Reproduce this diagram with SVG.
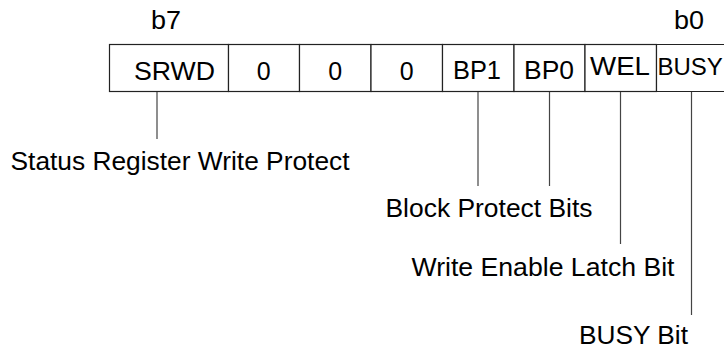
<svg xmlns="http://www.w3.org/2000/svg" width="724" height="352" viewBox="0 0 724 352">
<style>
text{font-family:"Liberation Sans",Arial,Helvetica,sans-serif;font-size:25px;fill:#000}
.c{text-anchor:middle}
.cell{fill:#fff;stroke:#222;stroke-width:1.2}
.stub{stroke:#444;stroke-width:1.2;fill:none}
</style>
<rect width="724" height="352" fill="#fff"/>
<g id="bitlabels">
<text x="151" y="29" textLength="30" lengthAdjust="spacingAndGlyphs">b7</text>
<text x="674" y="29" textLength="30" lengthAdjust="spacingAndGlyphs">b0</text>
</g>
<g id="cell-srwd"><rect class="cell" x="109.5" y="44.5" width="119" height="47"/><text x="134" y="80" textLength="81" lengthAdjust="spacingAndGlyphs">SRWD</text></g>
<g id="cell-b6"><rect class="cell" x="228.5" y="44.5" width="71" height="47"/><text class="c" x="263.7" y="80">0</text></g>
<g id="cell-b5"><rect class="cell" x="299.5" y="44.5" width="71.5" height="47"/><text class="c" x="335.2" y="80">0</text></g>
<g id="cell-b4"><rect class="cell" x="371" y="44.5" width="71.5" height="47"/><text class="c" x="406.8" y="80">0</text></g>
<g id="cell-bp1"><rect class="cell" x="442.5" y="44.5" width="71.5" height="47"/><text x="453" y="79" textLength="48" lengthAdjust="spacingAndGlyphs">BP1</text></g>
<g id="cell-bp0"><rect class="cell" x="514" y="44.5" width="71" height="47"/><text x="524" y="79" textLength="50" lengthAdjust="spacingAndGlyphs">BP0</text></g>
<g id="cell-wel"><rect class="cell" x="585" y="44.5" width="71.5" height="47"/><text x="590" y="75" textLength="60" lengthAdjust="spacingAndGlyphs">WEL</text></g>
<g id="cell-busy"><path class="cell" d="M724,44.5 H656.5 V91.5 H724"/><text x="657.5" y="75" style="font-size:24px">BUSY</text></g>
<g id="connectors">
<line class="stub" x1="157" y1="92" x2="157" y2="139"/>
<line class="stub" x1="478" y1="92" x2="478" y2="186"/>
<line class="stub" x1="549.5" y1="92" x2="549.5" y2="186"/>
<line class="stub" x1="620.5" y1="92" x2="620.5" y2="244"/>
<line class="stub" x1="691.5" y1="92" x2="691.5" y2="315"/>
</g>
<g id="label-srwp"><text x="10.5" y="170" textLength="339" lengthAdjust="spacingAndGlyphs">Status Register Write Protect</text></g>
<g id="label-bp"><text x="385.5" y="216.7" textLength="207" lengthAdjust="spacingAndGlyphs">Block Protect Bits</text></g>
<g id="label-wel"><text x="411.5" y="276" textLength="263" lengthAdjust="spacingAndGlyphs">Write Enable Latch Bit</text></g>
<g id="label-busy"><text x="579" y="344" textLength="109" lengthAdjust="spacingAndGlyphs">BUSY Bit</text></g>
</svg>
